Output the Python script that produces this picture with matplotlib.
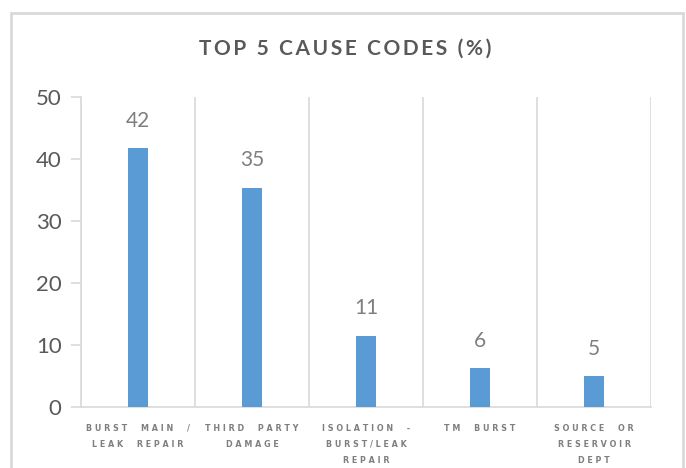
import matplotlib.pyplot as plt
from matplotlib.patches import Rectangle

plt.rcParams['font.family'] = ['Lato', 'DejaVu Sans']

causes = ['BURST  MAIN  /\nLEAK  REPAIR', 'THIRD  PARTY\nDAMAGE',
          'ISOLATION  -\nBURST/LEAK\nREPAIR', 'TM  BURST',
          'SOURCE  OR\nRESERVOIR\nDEPT']
percent = [41.7, 35.4, 11.5, 6.3, 5.0]
labels = ['42', '35', '11', '6', '5']
yticks = [0, 10, 20, 30, 40, 50]


def spaced(s, sp=' '):
    # Excel style letter spacing
    return '\n'.join(sp.join(line) for line in s.split('\n'))


fig = plt.figure(figsize=(6.86, 4.68), dpi=100)
ax = fig.add_axes([81 / 686, 61 / 468, 570 / 686, 310 / 468])

x = list(range(len(percent)))
ax.bar(x, percent, width=0.18, color='#5B9BD5', zorder=3)
for xi, v, lab in zip(x, percent, labels):
    ax.text(xi, v + 2.8, lab, ha='center', va='bottom', fontsize=15, color='#7F7F7F')

ax.set_xlim(-0.5, len(percent) - 0.5)
ax.set_ylim(0, 50)
for b in range(len(percent) + 1):
    ax.axvline(b - 0.5, color='#D9D9D9', lw=1.2, zorder=1)

ax.set_yticks(yticks)
ax.set_yticklabels([str(t) for t in yticks], fontsize=16, color='#595959')
ax.tick_params(axis='y', length=7, color='#D9D9D9', width=1.2, pad=7)
ax.set_xticks(x)
ax.set_xticklabels([spaced(c) for c in causes], fontsize=5.8, color='#7F7F7F',
                   fontweight='bold', family='DejaVu Sans', linespacing=2.0, va='top')
ax.tick_params(axis='x', length=0, pad=12)

for s in ['top', 'right']:
    ax.spines[s].set_visible(False)
ax.spines['left'].set_color('#D9D9D9')
ax.spines['bottom'].set_color('#D9D9D9')
ax.spines['left'].set_linewidth(1.2)
ax.spines['bottom'].set_linewidth(1.2)

fig.text(0.503, 0.897, spaced('TOP 5 CAUSE CODES (%)', '\u2009'), ha='center', va='center',
         fontsize=15, fontweight='bold', color='#595959')

fig.patches.append(Rectangle((11 / 686, -0.01), 672 / 686, 1 - 13 / 468 + 0.01,
                             transform=fig.transFigure, fill=False,
                             edgecolor='#D9D9D9', lw=2))

fig.savefig('out.png', dpi=100)
